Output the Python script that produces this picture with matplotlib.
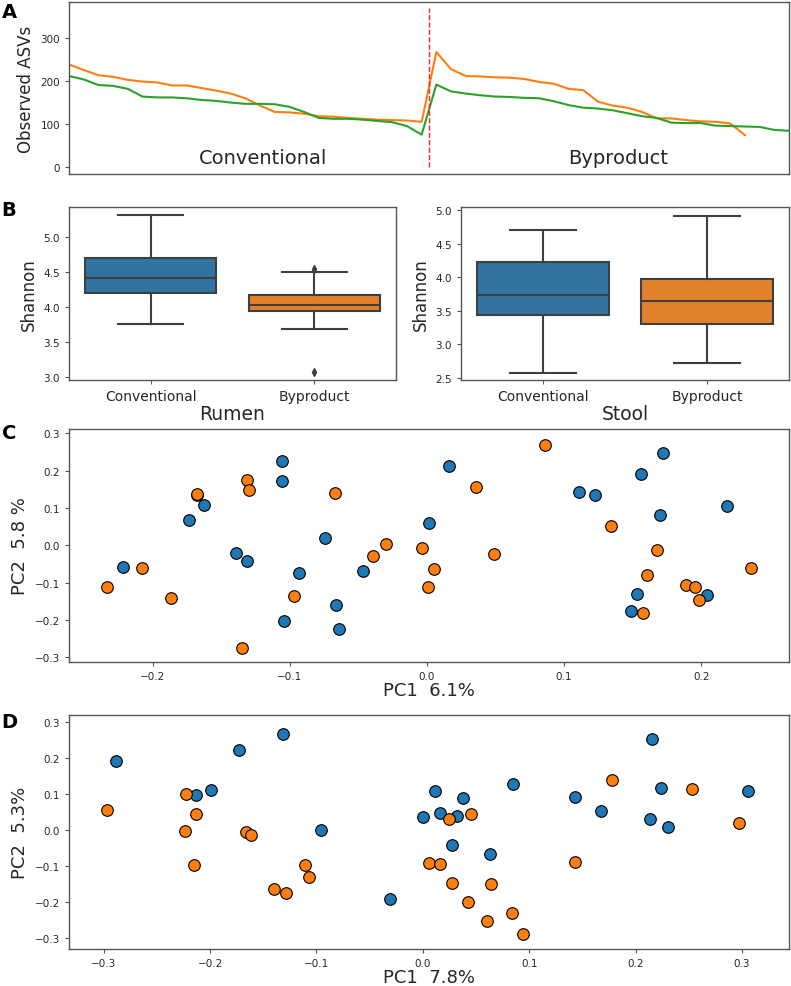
import numpy as np
import matplotlib
matplotlib.use("Agg")
from matplotlib import pyplot as plt

# panel A: observed ASVs, sorted per group (conventional then byproduct)
rumen_asv = [239, 226, 214, 210, 203, 199, 197, 190, 190, 184, 178, 171, 160, 143, 128,
             127, 124, 118, 117, 114, 112, 110, 109, 108, 105,
             268, 228, 212, 211, 209, 208, 205, 198, 194, 182, 179, 152, 143, 138, 128,
             113, 113, 109, 106, 105, 101, 74]
stool_asv = [212, 204, 191, 189, 182, 164, 162, 162, 160, 156, 154, 150, 147, 147, 146,
             140, 128, 114, 112, 112, 110, 107, 104, 95, 75,
             192, 176, 171, 167, 164, 163, 161, 160, 153, 144, 138, 136, 132, 125, 118,
             114, 103, 102, 102, 96, 95, 94, 93, 86, 84]
split_at = 24.5

# panel B: Shannon box stats
groups = ["Conventional", "Byproduct"]
rumen_box = {"whislo": [3.76, 3.69], "q1": [4.20, 3.95], "med": [4.42, 4.03],
             "q3": [4.70, 4.17], "whishi": [5.31, 4.50]}
rumen_fliers = [[], [4.54, 3.08]]
stool_box = {"whislo": [2.58, 2.73], "q1": [3.44, 3.31], "med": [3.73, 3.64],
             "q3": [4.22, 3.97], "whishi": [4.70, 4.91]}
stool_fliers = [[], []]

# panel C: rumen PCoA
rumen_conv_x = [-0.2216, -0.1675, -0.1624, -0.1733, -0.1061, -0.1061, -0.1391, -0.1311,
                -0.0935, -0.0746, -0.0466, -0.0663, -0.1047, -0.0644,
                0.0158, 0.0017, 0.1107, 0.1226, 0.1721, 0.1563, 0.2187, 0.1697, 0.2044,
                0.1529, 0.1485]
rumen_conv_y = [-0.059, 0.134, 0.108, 0.068, 0.226, 0.171, -0.021, -0.041,
                -0.075, 0.019, -0.068, -0.159, -0.204, -0.225,
                0.213, 0.059, 0.142, 0.134, 0.247, 0.192, 0.105, 0.082, -0.132,
                -0.131, -0.177]
rumen_byp_x = [-0.2076, -0.2336, -0.187, -0.168, -0.1311, -0.1302, -0.0668, -0.0299,
               -0.0393, -0.0971, -0.1347,
               0.0862, 0.0357, -0.0036, 0.0053, 0.0009, 0.0492, 0.1341, 0.1677, 0.1602,
               0.2362, 0.1886, 0.1952, 0.1988, 0.1578]
rumen_byp_y = [-0.062, -0.112, -0.141, 0.138, 0.175, 0.147, 0.139, 0.003,
               -0.028, -0.137, -0.274,
               0.269, 0.157, -0.008, -0.063, -0.111, -0.024, 0.053, -0.012, -0.079,
               -0.060, -0.106, -0.112, -0.147, -0.181]

# panel D: stool PCoA
stool_conv_x = [-0.2882, -0.1731, -0.1311, -0.1993, -0.2131, -0.0955, -0.0308,
                0.0111, 0.0377, 0.0002, 0.0158, 0.0324, 0.0846, 0.027, 0.0627,
                0.1428, 0.1678, 0.2156, 0.2235, 0.2137, 0.2303, 0.3053]
stool_conv_y = [0.190, 0.222, 0.265, 0.111, 0.098, 0.001, -0.190,
                0.107, 0.090, 0.037, 0.046, 0.038, 0.127, -0.042, -0.067,
                0.091, 0.054, 0.251, 0.116, 0.031, 0.009, 0.109]
stool_byp_x = [-0.2966, -0.2225, -0.2128, -0.2235, -0.215, -0.1662, -0.1612, -0.1112,
               -0.1074, -0.14, -0.1283,
               0.0242, 0.0452, 0.0061, 0.0164, 0.0274, 0.064, 0.042, 0.0602, 0.084,
               0.094, 0.1434, 0.178, 0.2525, 0.2969]
stool_byp_y = [0.056, 0.099, 0.044, -0.002, -0.097, -0.006, -0.013, -0.097,
               -0.129, -0.163, -0.175,
               0.030, 0.043, -0.092, -0.095, -0.146, -0.149, -0.200, -0.253, -0.231,
               -0.287, -0.088, 0.138, 0.113, 0.019]

W, H = 791, 987
SPINE = "#555555"
TXT = "#262626"


def px_axes(fig, l, t, r, b):
    ax = fig.add_axes([l / W, 1 - b / H, (r - l) / W, (b - t) / H])
    for s in ax.spines.values():
        s.set_color(SPINE)
        s.set_linewidth(1.0)
    ax.tick_params(colors=SPINE, labelcolor=TXT, labelsize=7.5, length=3)
    return ax


fig = plt.figure(figsize=(W / 100, H / 100), dpi=100)

# ---- A
axA = px_axes(fig, 69, 3, 789, 175)
axA.plot(np.arange(len(rumen_asv)), rumen_asv, color="#ff7f0e", lw=1.5)
axA.plot(np.arange(len(stool_asv)), stool_asv, color="#2ca02c", lw=1.5)
axA.vlines(split_at, 0, 370, colors="#ff2020", linestyles="--", lw=1)
axA.set_xlim(0, 49)
axA.set_ylim(-17, 385)
axA.set_xticks([])
axA.set_yticks([0, 100, 200, 300])
axA.set_ylabel("Observed ASVs", fontsize=12, color=TXT)
axA.text(13.2, 21, "Conventional", fontsize=14, ha="center", va="center", color=TXT)
axA.text(37.4, 21, "Byproduct", fontsize=14, ha="center", va="center", color=TXT)

# ---- B
box_cols = ["#3274a1", "#e1812c"]


def boxes(ax, st, fl, ylim, yt, xl):
    stats = []
    for i in range(2):
        d = {k: st[k][i] for k in st}
        d["fliers"] = fl[i]
        stats.append(d)
    bp = ax.bxp(stats, positions=[0, 1], widths=0.8, patch_artist=True,
                showfliers=True, capwidths=0.4,
                boxprops=dict(edgecolor="#3f3f3f", lw=1.5),
                medianprops=dict(color="#3f3f3f", lw=1.5),
                whiskerprops=dict(color="#3f3f3f", lw=1.5),
                capprops=dict(color="#3f3f3f", lw=1.5),
                flierprops=dict(marker="d", markerfacecolor="#3f3f3f",
                                markeredgecolor="#3f3f3f", markersize=4))
    for p, c in zip(bp["boxes"], box_cols):
        p.set_facecolor(c)
    ax.set_xlim(-0.5, 1.5)
    ax.set_ylim(*ylim)
    ax.set_yticks(yt)
    ax.set_xticks([0, 1])
    ax.set_xticklabels(groups, fontsize=10)
    ax.set_ylabel("Shannon", fontsize=12, color=TXT)
    ax.set_xlabel(xl, fontsize=13.5, color=TXT, labelpad=1)


axB1 = px_axes(fig, 69, 208, 396, 381)
boxes(axB1, rumen_box, rumen_fliers, (2.96, 5.43), [3.0, 3.5, 4.0, 4.5, 5.0], "Rumen")
axB2 = px_axes(fig, 461, 208, 789, 381)
boxes(axB2, stool_box, stool_fliers, (2.47, 5.045), [2.5, 3.0, 3.5, 4.0, 4.5, 5.0], "Stool")

# ---- C / D
def pcoa(ax, cx, cy, bx, by, xlim, ylim, xt, xl, yl):
    ax.scatter(cx, cy, s=70, color="#1f77b4", edgecolor="black", lw=0.8, zorder=3)
    ax.scatter(bx, by, s=70, color="#ff7f0e", edgecolor="black", lw=0.8, zorder=3)
    ax.set_xlim(*xlim)
    ax.set_ylim(*ylim)
    ax.set_xticks(xt)
    ax.set_yticks([-0.3, -0.2, -0.1, 0.0, 0.1, 0.2, 0.3])
    ax.set_xlabel(xl, fontsize=13, color=TXT, labelpad=0)
    ax.set_ylabel(yl, fontsize=13, color=TXT)


axC = px_axes(fig, 69, 430, 789, 663)
pcoa(axC, rumen_conv_x, rumen_conv_y, rumen_byp_x, rumen_byp_y,
     (-0.2612, 0.2641), (-0.3126, 0.3115), [-0.2, -0.1, 0.0, 0.1, 0.2],
     "PC1  6.1%", "PC2  5.8 %")
axD = px_axes(fig, 69, 716, 789, 950)
pcoa(axD, stool_conv_x, stool_conv_y, stool_byp_x, stool_byp_y,
     (-0.3326, 0.3441), (-0.3296, 0.3186), [-0.3, -0.2, -0.1, 0.0, 0.1, 0.2, 0.3],
     "PC1  7.8%", "PC2  5.3%")

for lab, y in [("A", 12), ("B", 211), ("C", 434), ("D", 722)]:
    fig.text(9 / W, 1 - y / H, lab, fontsize=14, fontweight="bold",
             ha="center", va="center")

fig.savefig("out.png", dpi=100)
